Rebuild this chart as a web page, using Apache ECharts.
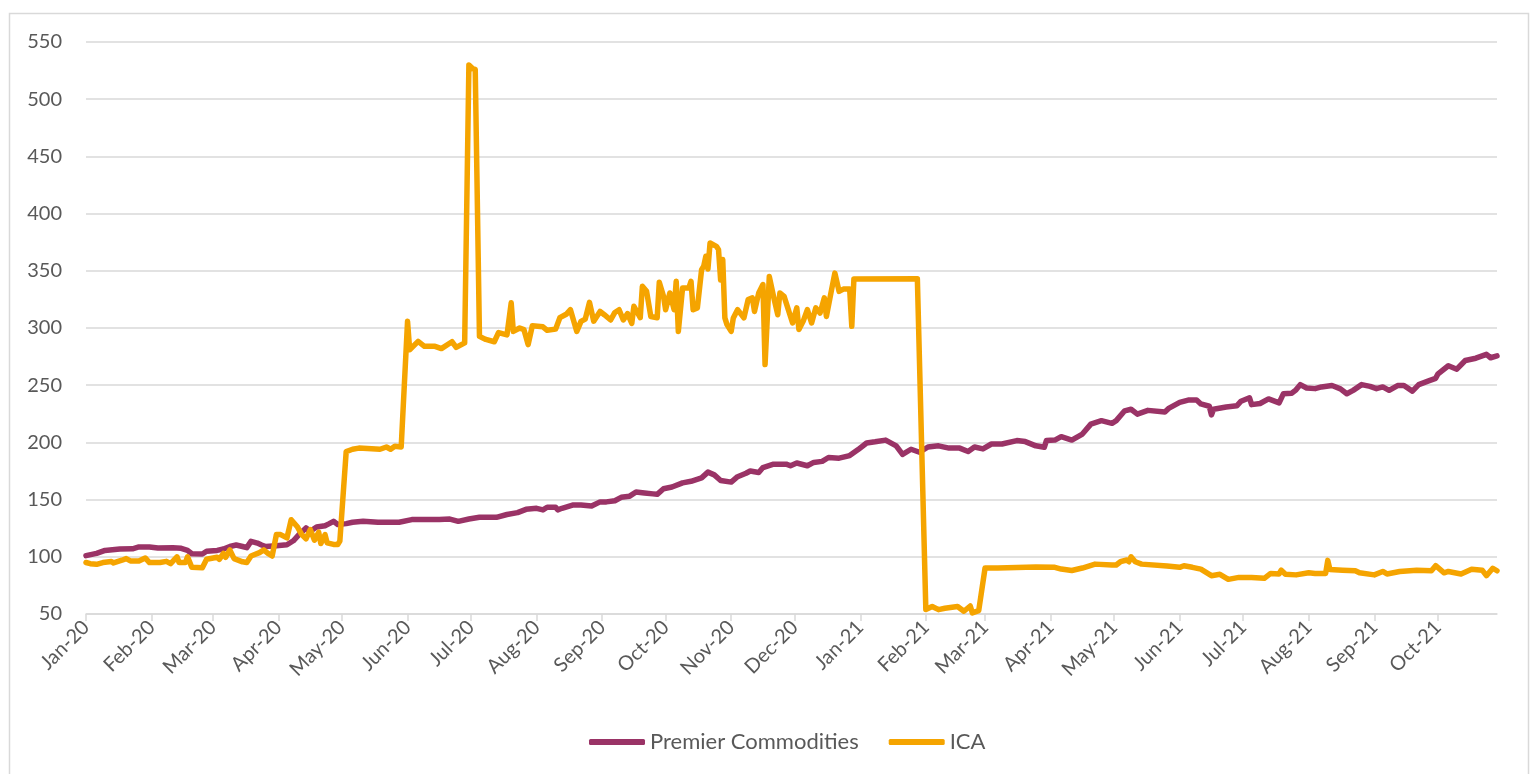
<!DOCTYPE html>
<html>
<head>
<meta charset="utf-8">
<script src="https://cdn.jsdelivr.net/npm/echarts@6/dist/echarts.min.js"></script>
<style>
  html, body { margin: 0; padding: 0; background: #fff; }
  #chart { width: 1538px; height: 774px; }
</style>
</head>
<body>
<div id="chart"></div>
<script>
// ---- Data ----
const axisStart = '2020-01-01';
const axisEnd = '2021-10-29';
const monthNames = ['Jan','Feb','Mar','Apr','May','Jun','Jul','Aug','Sep','Oct','Nov','Dec'];
const yTicks = { min: 50, max: 550, interval: 50 };
const seriesNames = ['Premier Commodities', 'ICA'];

const premierDates = [
 '2020-01-01','2020-01-06','2020-01-10','2020-01-17','2020-01-23','2020-01-26','2020-01-31','2020-02-04','2020-02-11','2020-02-15',
 '2020-02-18','2020-02-20','2020-02-25','2020-02-27','2020-03-03','2020-03-06','2020-03-09','2020-03-12','2020-03-15','2020-03-17',
 '2020-03-19','2020-03-22','2020-03-24','2020-03-26','2020-03-31','2020-04-05','2020-04-08','2020-04-11','2020-04-14','2020-04-16',
 '2020-04-19','2020-04-23','2020-04-25','2020-04-27','2020-04-29','2020-05-03','2020-05-06','2020-05-11','2020-05-18','2020-05-28',
 '2020-06-03','2020-06-16','2020-06-21','2020-06-25','2020-06-30','2020-07-05','2020-07-13','2020-07-18','2020-07-23','2020-07-27',
 '2020-08-01','2020-08-04','2020-08-06','2020-08-10','2020-08-11','2020-08-13','2020-08-18','2020-08-22','2020-08-27','2020-08-31',
 '2020-09-03','2020-09-07','2020-09-10','2020-09-14','2020-09-17','2020-09-21','2020-09-25','2020-09-27','2020-09-30','2020-10-04',
 '2020-10-09','2020-10-13','2020-10-18','2020-10-21','2020-10-24','2020-10-27','2020-11-01','2020-11-04','2020-11-08','2020-11-10',
 '2020-11-14','2020-11-16','2020-11-21','2020-11-27','2020-11-29','2020-12-02','2020-12-07','2020-12-10','2020-12-14','2020-12-17',
 '2020-12-22','2020-12-27','2020-12-31','2021-01-04','2021-01-08','2021-01-13','2021-01-18','2021-01-21','2021-01-25','2021-01-29',
 '2021-02-02','2021-02-07','2021-02-12','2021-02-17','2021-02-21','2021-02-24','2021-02-28','2021-03-04','2021-03-09','2021-03-16',
 '2021-03-20','2021-03-25','2021-03-29','2021-03-30','2021-04-03','2021-04-06','2021-04-11','2021-04-16','2021-04-20','2021-04-25',
 '2021-04-30','2021-05-02','2021-05-06','2021-05-09','2021-05-12','2021-05-14','2021-05-17','2021-05-25','2021-05-27','2021-06-01',
 '2021-06-05','2021-06-09','2021-06-11','2021-06-15','2021-06-16','2021-06-17','2021-06-23','2021-06-28','2021-06-30','2021-07-04',
 '2021-07-05','2021-07-09','2021-07-13','2021-07-18','2021-07-20','2021-07-24','2021-07-26','2021-07-28','2021-07-31','2021-08-04',
 '2021-08-07','2021-08-12','2021-08-16','2021-08-19','2021-08-22','2021-08-26','2021-08-30','2021-09-02','2021-09-05','2021-09-08',
 '2021-09-12','2021-09-15','2021-09-19','2021-09-22','2021-09-27','2021-09-30','2021-10-01','2021-10-06','2021-10-10','2021-10-14',
 '2021-10-19','2021-10-22','2021-10-24','2021-10-26','2021-10-29'
];
const premierValues = [
 101,103,105.6,106.8,107,108.6,108.6,107.7,108,107.4,
 105.6,102.7,102.4,104.8,105.6,106.8,109,110.3,109,108,
 113.5,112,110.3,109,109.6,110.5,114,120,125.2,122.3,
 126,127.2,129,131,128.3,129,130.2,131,130.2,130.2,
 132.5,132.5,133,131,133,134.5,134.5,137,138.6,141.5,
 142.4,141,143.3,143.3,141,142.4,145.2,145.2,144.4,148,
 148,149,152,153,156.6,155.8,155,154.6,159.5,161,
 164.6,166,169,174,171.6,166.7,165.3,170,173,175,
 173.7,178,181,181,179.6,182,179.6,182.5,183.4,186.8,
 186.2,188.5,193.7,199.5,200.5,202,197,189.5,194,191.4,
 196,197,195,195,192,196,194.3,198.6,198.6,201.6,
 200.7,197,195.7,201.6,202,205,202,207.3,216,219,
 216.7,219,227.6,229,224.7,226,228,226.5,230,235,
 237,237,233.6,231.6,224,229,231,232,236,239,
 233,234,238,234.5,242.5,243,246,250.5,247.6,247,
 248.5,249.7,246.8,242.5,245.5,250.5,249,247,248.5,245.5,
 249.7,249.7,244.8,250.5,254,256,259.6,267,264,271.6,
 273.6,275.6,277,274,275.6
];

const icaDates = [
 '2020-01-01','2020-01-03','2020-01-06','2020-01-09','2020-01-13','2020-01-14','2020-01-18','2020-01-20','2020-01-22','2020-01-26',
 '2020-01-29','2020-01-31','2020-02-05','2020-02-08','2020-02-10','2020-02-13','2020-02-14','2020-02-17','2020-02-18','2020-02-20',
 '2020-02-25','2020-02-27','2020-03-03','2020-03-04','2020-03-06','2020-03-07','2020-03-09','2020-03-11','2020-03-15','2020-03-17',
 '2020-03-19','2020-03-23','2020-03-25','2020-03-27','2020-03-29','2020-03-31','2020-04-02','2020-04-05','2020-04-07','2020-04-10',
 '2020-04-12','2020-04-14','2020-04-16','2020-04-18','2020-04-20','2020-04-21','2020-04-23','2020-04-24','2020-04-27','2020-04-29',
 '2020-04-30','2020-05-03','2020-05-06','2020-05-09','2020-05-19','2020-05-22','2020-05-24','2020-05-26','2020-05-29','2020-06-01',
 '2020-06-02','2020-06-06','2020-06-09','2020-06-14','2020-06-17','2020-06-22','2020-06-24','2020-06-28','2020-06-30','2020-07-02',
 '2020-07-03','2020-07-05','2020-07-08','2020-07-12','2020-07-14','2020-07-18','2020-07-20','2020-07-21','2020-07-24','2020-07-26',
 '2020-07-28','2020-07-30','2020-08-04','2020-08-06','2020-08-10','2020-08-12','2020-08-15','2020-08-17','2020-08-20','2020-08-22',
 '2020-08-24','2020-08-26','2020-08-28','2020-08-31','2020-09-02','2020-09-05','2020-09-07','2020-09-09','2020-09-11','2020-09-13',
 '2020-09-15','2020-09-16','2020-09-19','2020-09-20','2020-09-22','2020-09-24','2020-09-27','2020-09-28','2020-09-30','2020-10-01',
 '2020-10-03','2020-10-05','2020-10-06','2020-10-07','2020-10-09','2020-10-12','2020-10-13','2020-10-14','2020-10-16','2020-10-18',
 '2020-10-19','2020-10-20','2020-10-21','2020-10-22','2020-10-25','2020-10-26','2020-10-27','2020-10-28','2020-10-29','2020-10-30',
 '2020-11-01','2020-11-02','2020-11-04','2020-11-07','2020-11-09','2020-11-11','2020-11-12','2020-11-14','2020-11-16','2020-11-17',
 '2020-11-19','2020-11-21','2020-11-23','2020-11-24','2020-11-26','2020-11-28','2020-11-30','2020-12-02','2020-12-03','2020-12-05',
 '2020-12-07','2020-12-09','2020-12-11','2020-12-13','2020-12-15','2020-12-16','2020-12-18','2020-12-20','2020-12-22','2020-12-24',
 '2020-12-27','2020-12-28','2020-12-29','2021-01-28','2021-02-01','2021-02-04','2021-02-07','2021-02-10','2021-02-16','2021-02-19',
 '2021-02-22','2021-02-23','2021-02-26','2021-03-01','2021-03-07','2021-03-25','2021-04-03','2021-04-06','2021-04-11','2021-04-16',
 '2021-04-22','2021-04-30','2021-05-02','2021-05-04','2021-05-07','2021-05-08','2021-05-09','2021-05-11','2021-05-14','2021-05-26',
 '2021-06-01','2021-06-03','2021-06-07','2021-06-11','2021-06-16','2021-06-20','2021-06-24','2021-06-29','2021-07-05','2021-07-11',
 '2021-07-14','2021-07-18','2021-07-19','2021-07-21','2021-07-26','2021-08-01','2021-08-04','2021-08-09','2021-08-10','2021-08-11',
 '2021-08-17','2021-08-23','2021-08-25','2021-09-01','2021-09-05','2021-09-07','2021-09-13','2021-09-21','2021-09-28','2021-09-30',
 '2021-10-04','2021-10-06','2021-10-12','2021-10-17','2021-10-22','2021-10-24','2021-10-27','2021-10-29'
];
const icaValues = [
 95,94,93.4,95,95.9,94.6,97,98.4,96.4,96.4,
 99,95,95,96,94,100,95,95,100,90.8,
 90.5,97.8,99.6,97.8,103,99.6,106,98.4,95.6,95,
 100.7,103.6,106,103,100.7,119.4,119.4,116.5,132.4,126,
 119.4,115.7,123.8,114.5,121.5,111.6,119.4,112.2,110.8,110.8,
 113.7,192,194,195,194,196,194,196.6,196,305.8,
 281,288.3,284,284,282,288,283,287,530,526.5,
 526,292.7,290,288,296,294,322,297,300,298.6,
 285.5,302,301,298,299,309,312,316,297,305.8,
 307.8,322.4,306,314.5,311.6,307,313.6,316,307,312.6,
 304,319,309,336.4,332,310,309,340,327.7,316,
 330.6,316,340.8,297,335,335,340.8,316,317.6,351,
 354,362.7,351.6,374.3,371.4,368.5,342,359.8,308.8,303,
 297,308.8,316,308.8,324.8,326.3,314.5,330.6,338,268,
 345,327.7,311.6,330.6,327.7,316,304.4,317.6,298.6,305.8,
 316,304.4,317.6,313,326.3,310,329.2,348,332,334,
 334,301.5,342.9,343,54,56.6,53.8,55,56.6,52.4,
 57,51,53,90.2,90.2,91,90.8,89.3,88,90.2,
 93.6,92.8,92.8,95.7,97.2,95.7,100,95.7,93.6,91.9,
 90.8,92.2,90.8,89.2,83.5,84.7,80.3,82,82,81.2,
 85.5,85,88.3,84.7,84.2,86,85.5,85.5,96.9,89,
 88.3,87.8,86,84.2,87.2,85,87.2,88.3,87.8,92.2,
 86,87.2,85,89.2,88.3,83.5,90,87.8
];

// ---- Build daily categories for the date axis ----
function buildDays(start, end) {
  const out = [];
  const d = new Date(start + 'T00:00:00Z');
  const e = new Date(end + 'T00:00:00Z');
  while (d <= e) {
    out.push(d.toISOString().slice(0, 10));
    d.setUTCDate(d.getUTCDate() + 1);
  }
  return out;
}
const days = buildDays(axisStart, axisEnd);
const isMonthStart = (idx, val) => val.slice(8, 10) === '01';
const fmtMonth = v => monthNames[parseInt(v.slice(5, 7), 10) - 1] + '-' + v.slice(2, 4);

const pair = (ds, vs) => ds.map((d, i) => [d, vs[i]]);

const FONT = 'Lato, "Open Sans", sans-serif';
const chart = echarts.init(document.getElementById('chart'), null, { renderer: 'canvas' });
chart.setOption({
  animation: false,
  backgroundColor: '#ffffff',
  graphic: [{
    type: 'rect', silent: true, z: -1,
    shape: { x: 9.5, y: 13.5, width: 1519, height: 780 },
    style: { fill: 'none', stroke: '#d9d9d9', lineWidth: 1.5 }
  }],
  grid: { left: 86, right: 41, top: 42, bottom: 160, containLabel: false },
  legend: {
    bottom: 16, left: 584,
    icon: 'roundRect',
    itemWidth: 56, itemHeight: 6, itemGap: 30,
    textStyle: { fontFamily: FONT, fontSize: 22, color: '#595959' },
    data: seriesNames
  },
  xAxis: {
    type: 'category',
    data: days,
    boundaryGap: false,
    axisLine: { lineStyle: { color: '#d9d9d9', width: 1.5 } },
    axisTick: { show: true, interval: isMonthStart, length: 7, lineStyle: { color: '#d9d9d9', width: 1.5 } },
    axisLabel: {
      interval: isMonthStart, rotate: 45, margin: 10,
      formatter: fmtMonth,
      fontFamily: FONT, fontSize: 20, color: '#595959'
    },
    splitLine: { show: false }
  },
  yAxis: {
    type: 'value',
    min: yTicks.min, max: yTicks.max, interval: yTicks.interval,
    axisLine: { show: false }, axisTick: { show: false },
    axisLabel: { fontFamily: FONT, fontSize: 20, color: '#595959', margin: 24 },
    splitLine: { lineStyle: { color: '#d9d9d9', width: 1.5 } }
  },
  series: [
    {
      name: seriesNames[0], type: 'line', symbol: 'none',
      data: pair(premierDates, premierValues),
      lineStyle: { color: '#9a3366', width: 5.5, join: 'round', cap: 'round' },
      itemStyle: { color: '#9a3366' }
    },
    {
      name: seriesNames[1], type: 'line', symbol: 'none',
      data: pair(icaDates, icaValues),
      lineStyle: { color: '#f5a400', width: 5.5, join: 'round', cap: 'round' },
      itemStyle: { color: '#f5a400' }
    }
  ]
});
</script>
</body>
</html>
